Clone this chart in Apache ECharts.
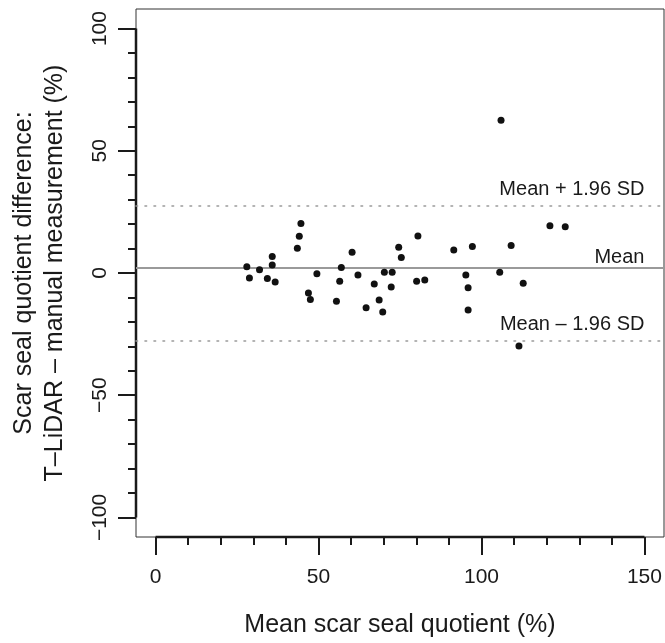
<!DOCTYPE html>
<html>
<head>
<meta charset="utf-8">
<title>Bland-Altman: scar seal quotient</title>
<script src="https://cdn.jsdelivr.net/npm/echarts@6/dist/echarts.min.js"></script>
<style>
  html, body { margin: 0; padding: 0; background: #fff; }
  #chart { width: 665px; height: 643px; }
</style>
</head>
<body>
<div id="chart"></div>
<script>
  // mean of the two measurements (%), one entry per scar
  var meanQuotient = [
    28.0, 28.8, 31.9, 34.3, 35.8, 35.8, 36.7, 43.5, 44.1, 44.6,
    46.9, 47.5, 49.5, 55.5, 56.5, 57.0, 60.3, 62.1, 64.6, 67.1,
    68.6, 69.7, 70.2, 72.3, 72.6, 74.6, 75.4, 80.1, 80.5, 82.6,
    91.5, 95.2, 95.9, 95.9, 97.2, 105.6, 106.0, 109.1, 111.5, 112.8,
    121.0, 125.7
  ];
  // difference T-LiDAR - manual (%)
  var quotientDiff = [
    2.6, -2.0, 1.3, -2.2, 6.7, 3.3, -3.7, 10.1, 15.0, 20.2,
    -8.2, -10.8, -0.3, -11.6, -3.4, 2.3, 8.5, -0.8, -14.2, -4.5,
    -11.0, -16.0, 0.3, -5.7, 0.3, 10.5, 6.3, -3.4, 15.1, -2.9,
    9.4, -0.8, -6.0, -15.1, 10.8, 0.3, 62.5, 11.2, -29.9, -4.2,
    19.3, 18.9
  ];

  // reference lines
  var limitNames = ['Mean + 1.96 SD', 'Mean', 'Mean \u2013 1.96 SD'];
  var limitValues = [27.7, 2.0, -27.6];

  // ticks
  var xMajorTicks = [0, 50, 100, 150];
  var xMinorTicks = [0, 10, 20, 30, 40, 50, 60, 70, 80, 90, 100, 110, 120, 130, 140, 150];
  var yMajorTicks = [-100, -50, 0, 50, 100];
  var yMinorTicks = [-100, -90, -80, -70, -60, -50, -40, -30, -20, -10, 0,
                     10, 20, 30, 40, 50, 60, 70, 80, 90, 100];

  var xMin = -6, xMax = 156, yMin = -108, yMax = 108;

  var FONT = "'Liberation Sans', Arial, Helvetica, sans-serif";
  var INK = '#1a1a1a';

  var points = [];
  for (var i = 0; i < meanQuotient.length; i++) {
    points.push([meanQuotient[i], quotientDiff[i]]);
  }

  var limitLines = [];
  var limitLabels = [];
  for (var k = 0; k < limitValues.length; k++) {
    var isMean = limitNames[k] === 'Mean';
    limitLines.push({
      yAxis: limitValues[k],
      lineStyle: isMean
        ? { color: '#9a9a9a', width: 2, type: 'solid' }
        : { color: '#9a9a9a', width: 1.6, type: [1.6, 7.4], cap: 'round' }
    });
    limitLabels.push({
      name: limitNames[k],
      value: [xMajorTicks[xMajorTicks.length - 1], limitValues[k]],
      label: { offset: [0, isMean ? -11 : -16] }
    });
  }

  function minusSign(v) {
    return v < 0 ? '\u2212' + Math.abs(v) : String(v);
  }

  var myChart = echarts.init(document.getElementById('chart'), null, { renderer: 'canvas' });

  var option = {
    animation: false,
    backgroundColor: '#fff',
    textStyle: { fontFamily: FONT, color: INK },
    grid: {
      left: 136, right: 1, top: 9, bottom: 106,
      containLabel: false,
      outerBoundsMode: 'none',
      show: true, borderColor: '#333', borderWidth: 1,
      backgroundColor: 'transparent'
    },
    xAxis: [
      {
        type: 'value', min: xMin, max: xMax, position: 'bottom',
        axisLine: { show: false, onZero: false },
        splitLine: { show: false },
        axisTick: { customValues: xMajorTicks, length: 18, lineStyle: { color: INK, width: 2 } },
        axisLabel: { customValues: xMajorTicks, fontSize: 21, color: INK, margin: 30, fontFamily: FONT },
        name: 'Mean scar seal quotient (%)',
        nameLocation: 'middle', nameGap: 76,
        nameTextStyle: { fontSize: 25, color: INK, fontFamily: FONT }
      },
      {
        type: 'value', min: xMin, max: xMax, position: 'bottom',
        axisLine: { show: false, onZero: false },
        splitLine: { show: false },
        axisTick: { customValues: xMinorTicks, length: 8, lineStyle: { color: INK, width: 2 } },
        axisLabel: { show: false }
      }
    ],
    yAxis: [
      {
        type: 'value', min: yMin, max: yMax, position: 'left',
        axisLine: { show: false, onZero: false },
        splitLine: { show: false },
        axisTick: { customValues: yMajorTicks, length: 18, lineStyle: { color: INK, width: 2 } },
        axisLabel: {
          customValues: yMajorTicks, rotate: 90, fontSize: 21, color: INK, margin: 25,
          fontFamily: FONT, formatter: minusSign
        },
        name: 'Scar seal quotient difference:\nT\u2013LiDAR \u2013 manual measurement (%)',
        nameLocation: 'middle', nameRotate: 90, nameGap: 65,
        nameTextStyle: { fontSize: 25, lineHeight: 31, color: INK, fontFamily: FONT, align: 'center' }
      },
      {
        type: 'value', min: yMin, max: yMax, position: 'left',
        axisLine: { show: false, onZero: false },
        splitLine: { show: false },
        axisTick: { customValues: yMinorTicks, length: 8, lineStyle: { color: INK, width: 2 } },
        axisLabel: { show: false }
      }
    ],
    series: [
      {
        // heavy axis segments, R style, spanning first to last tick
        type: 'line', silent: true, symbol: 'none', clip: false,
        lineStyle: { color: INK, width: 2.5 },
        data: [[xMin, yMajorTicks[0]], [xMin, yMajorTicks[yMajorTicks.length - 1]]]
      },
      {
        type: 'line', silent: true, symbol: 'none', clip: false,
        lineStyle: { color: INK, width: 2.5 },
        data: [[xMajorTicks[0], yMin], [xMajorTicks[xMajorTicks.length - 1], yMin]]
      },
      {
        name: 'scars',
        type: 'scatter',
        symbol: 'circle',
        symbolSize: 7,
        itemStyle: { color: '#111', opacity: 1 },
        data: points,
        markLine: {
          silent: true,
          symbol: 'none',
          label: { show: false },
          data: limitLines
        },
        z: 5
      },
      {
        type: 'scatter', silent: true, symbolSize: 0,
        itemStyle: { opacity: 1 },
        label: {
          show: true, position: 'left', distance: 0,
          formatter: '{b}', fontSize: 20, color: INK, fontFamily: FONT
        },
        data: limitLabels
      }
    ]
  };

  myChart.setOption(option);
</script>
</body>
</html>
